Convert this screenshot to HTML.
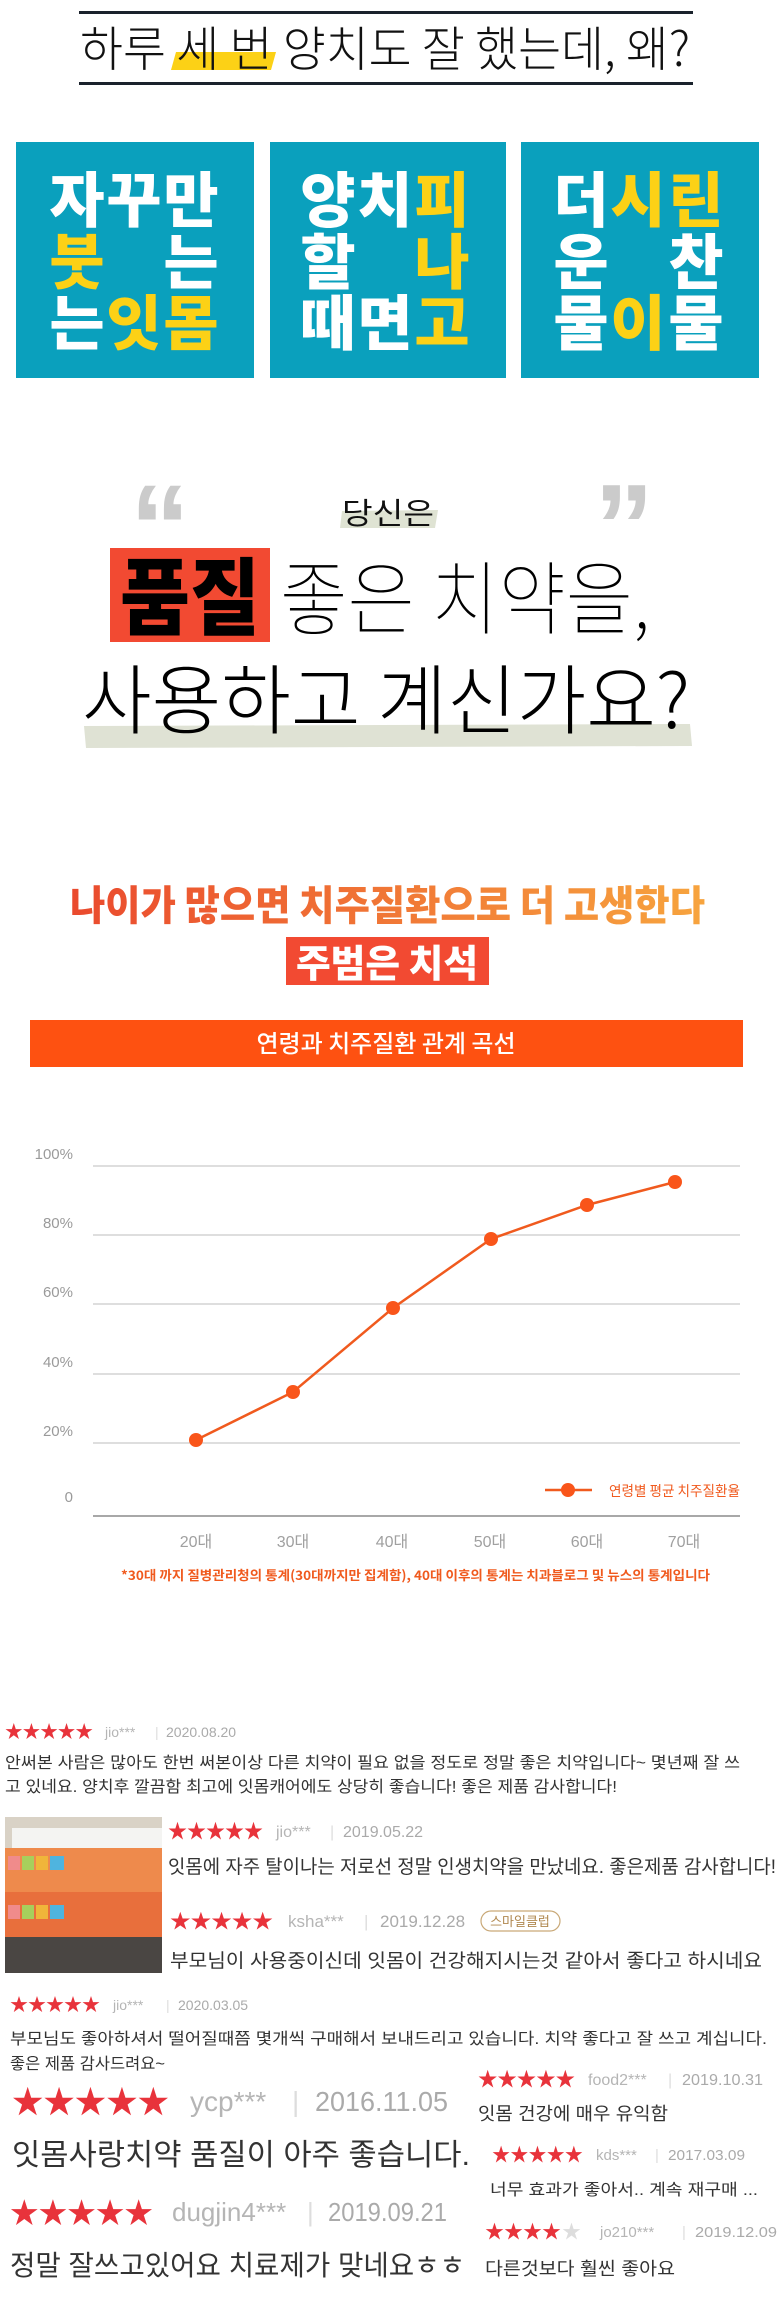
<!DOCTYPE html>
<html><head><meta charset="utf-8">
<style>
html,body{margin:0;padding:0;background:#fff;}
svg{display:block;}
text{font-family:"Liberation Sans","Noto Sans CJK KR",sans-serif;}
.k{font-family:"Noto Sans CJK KR","Liberation Sans",sans-serif;}
</style></head>
<body>
<svg width="777" height="2318" viewBox="0 0 777 2318" xmlns="http://www.w3.org/2000/svg">
<defs>
<linearGradient id="g1" x1="0" x2="1" y1="0" y2="0">
<stop offset="0" stop-color="#ea4a2e"/><stop offset="1" stop-color="#f7a43e"/>
</linearGradient>
</defs>
<!-- Section 1 -->
<rect x="79" y="11" width="614" height="3" fill="#1a222c"/>
<rect x="79" y="82" width="614" height="3" fill="#1a222c"/>
<polygon points="176,52 276,52 271,70 171,70" fill="#fcd116"/>
<text class="k" x="80" y="66" font-size="48" font-weight="300" fill="#111" textLength="610" lengthAdjust="spacingAndGlyphs">하루 세 번 양치도 잘 했는데, 왜?</text>

<rect x="16" y="142" width="238" height="236" fill="#0aa0bd"/>
<rect x="270" y="142" width="236" height="236" fill="#0aa0bd"/>
<rect x="521" y="142" width="238" height="236" fill="#0aa0bd"/>
<g class="k" font-size="60" font-weight="900" text-anchor="middle">
<text x="77" y="222" fill="#fff">자</text><text x="134" y="222" fill="#fff">꾸</text><text x="191" y="222" fill="#fff">만</text>
<text x="77" y="284" fill="#fcd116">붓</text><text x="191" y="284" fill="#fff">는</text>
<text x="77" y="345" fill="#fff">는</text><text x="134" y="345" fill="#fcd116">잇</text><text x="191" y="345" fill="#fcd116">몸</text>
<text x="328" y="222" fill="#fff">양</text><text x="385" y="222" fill="#fff">치</text><text x="442" y="222" fill="#fcd116">피</text>
<text x="328" y="284" fill="#fff">할</text><text x="442" y="284" fill="#fcd116">나</text>
<text x="328" y="345" fill="#fff">때</text><text x="385" y="345" fill="#fff">면</text><text x="442" y="345" fill="#fcd116">고</text>
<text x="581" y="222" fill="#fff">더</text><text x="638" y="222" fill="#fcd116">시</text><text x="696" y="222" fill="#fcd116">린</text>
<text x="581" y="284" fill="#fff">운</text><text x="696" y="284" fill="#fff">찬</text>
<text x="581" y="345" fill="#fff">물</text><text x="638" y="345" fill="#fcd116">이</text><text x="696" y="345" fill="#fff">물</text>
</g>

<!-- Section 2 -->
<text x="130" y="568" font-family="Liberation Serif" font-size="120" font-weight="bold" fill="#cbcbcb">“</text>
<text x="594" y="568" font-family="Liberation Serif" font-size="120" font-weight="bold" fill="#cbcbcb">”</text>
<polygon points="342,511 438,510 435,528 340,528" fill="#dfe3d3"/>
<text class="k" x="342" y="524" font-size="30" fill="#111" textLength="92" lengthAdjust="spacingAndGlyphs">당신은</text>
<rect x="110" y="548" width="160" height="94" fill="#f24a32"/>
<text class="k" x="190" y="628" font-size="84" font-weight="900" fill="#000" text-anchor="middle" textLength="140" lengthAdjust="spacingAndGlyphs">품질</text>
<text class="k" x="280" y="628" font-size="80" font-weight="100" fill="#000" textLength="370" lengthAdjust="spacingAndGlyphs">좋은 치약을,</text>
<polygon points="84,726 690,724 692,746 86,748" fill="#dfe2d4"/>
<text class="k" x="82" y="728" font-size="76" font-weight="300" fill="#000" textLength="608" lengthAdjust="spacingAndGlyphs">사용하고 계신가요?</text>

<!-- Section 3 -->
<text class="k" x="70" y="920" font-size="41" font-weight="900" fill="url(#g1)" textLength="635" lengthAdjust="spacingAndGlyphs">나이가 많으면 치주질환으로 더 고생한다</text>
<rect x="286" y="937" width="203" height="48" fill="#f24a32"/>
<text class="k" x="296" y="977" font-size="38" font-weight="900" fill="#fff" textLength="182" lengthAdjust="spacingAndGlyphs">주범은 치석</text>
<rect x="30" y="1020" width="713" height="47" fill="#fe5111"/>
<text class="k" x="386" y="1052" font-size="24" font-weight="500" fill="#fff" text-anchor="middle">연령과 치주질환 관계 곡선</text>

<g stroke="#d4d4d4" stroke-width="1.5">
<line x1="93" y1="1166" x2="740" y2="1166"/><line x1="93" y1="1235" x2="740" y2="1235"/>
<line x1="93" y1="1304" x2="740" y2="1304"/><line x1="93" y1="1374" x2="740" y2="1374"/>
<line x1="93" y1="1443" x2="740" y2="1443"/>
</g>
<line x1="93" y1="1516" x2="740" y2="1516" stroke="#a8a8a8" stroke-width="2"/>
<g font-size="15" fill="#9a9a9a" text-anchor="end">
<text x="73" y="1159">100%</text><text x="73" y="1228">80%</text><text x="73" y="1297">60%</text>
<text x="73" y="1367">40%</text><text x="73" y="1436">20%</text><text x="73" y="1502">0</text>
</g>
<polyline points="196,1440 293,1392 393,1308 491,1239 587,1205 675,1182" fill="none" stroke="#f05a1e" stroke-width="2.5"/>
<g fill="#f9551a">
<circle cx="196" cy="1440" r="7"/><circle cx="293" cy="1392" r="7"/><circle cx="393" cy="1308" r="7"/>
<circle cx="491" cy="1239" r="7"/><circle cx="587" cy="1205" r="7"/><circle cx="675" cy="1182" r="7"/>
<line x1="545" y1="1490" x2="592" y2="1490" stroke="#f05a1e" stroke-width="2.5"/>
<circle cx="568" cy="1490" r="7"/>
</g>
<text class="k" x="609" y="1496" font-size="14" fill="#f05a1e" textLength="131" lengthAdjust="spacingAndGlyphs">연령별 평균 치주질환율</text>
<g class="k" font-size="16" fill="#a0a0a0" text-anchor="middle">
<text x="196" y="1547">20대</text><text x="293" y="1547">30대</text><text x="392" y="1547">40대</text>
<text x="490" y="1547">50대</text><text x="587" y="1547">60대</text><text x="684" y="1547">70대</text>
</g>
<text class="k" x="121" y="1580" font-size="13" font-weight="700" fill="#f05a1e" textLength="589" lengthAdjust="spacingAndGlyphs">*30대 까지 질병관리청의 통계(30대까지만 집계함), 40대 이후의 통계는 치과블로그 및 뉴스의 통계입니다</text>

<!-- Reviews -->
<g class="k">
<text x="5" y="1738" font-size="18" fill="#e8333b" textLength="88" lengthAdjust="spacingAndGlyphs">★★★★★</text>
<text x="105" y="1737" font-size="14" fill="#b5b5b5">jio***</text>
<text x="155" y="1737" font-size="14" fill="#ddd">|</text>
<text x="166" y="1737" font-size="14" fill="#aaa">2020.08.20</text>
<text x="5" y="1768" font-size="16" fill="#333" textLength="735" lengthAdjust="spacingAndGlyphs">안써본 사람은 많아도 한번 써본이상 다른 치약이 필요 없을 정도로 정말 좋은 치약입니다~ 몇년째 잘 쓰</text>
<text x="5" y="1792" font-size="16" fill="#333" textLength="612" lengthAdjust="spacingAndGlyphs">고 있네요. 양치후 깔끔함 최고에 잇몸캐어에도 상당히 좋습니다! 좋은 제품 감사합니다!</text>

<rect x="5" y="1817" width="157" height="156" fill="#d9d2c6"/>
<rect x="12" y="1828" width="150" height="20" fill="#f4f4f2"/>
<rect x="5" y="1848" width="157" height="44" fill="#ee8a4c"/>
<rect x="8" y="1856" width="12" height="14" fill="#f08b8b"/><rect x="22" y="1856" width="12" height="14" fill="#a7cf5c"/>
<rect x="36" y="1856" width="12" height="14" fill="#f0b53a"/><rect x="50" y="1856" width="14" height="14" fill="#4fb4df"/>
<rect x="5" y="1892" width="157" height="45" fill="#e86f3c"/>
<rect x="8" y="1905" width="12" height="14" fill="#f08b8b"/><rect x="22" y="1905" width="12" height="14" fill="#a7cf5c"/>
<rect x="36" y="1905" width="12" height="14" fill="#f0b53a"/><rect x="50" y="1905" width="14" height="14" fill="#4fb4df"/>
<rect x="5" y="1937" width="157" height="36" fill="#4a4643"/>

<text x="168" y="1838" font-size="20" fill="#e8333b" textLength="95" lengthAdjust="spacingAndGlyphs">★★★★★</text>
<text x="276" y="1837" font-size="16" fill="#b5b5b5">jio***</text>
<text x="330" y="1837" font-size="16" fill="#ddd">|</text>
<text x="343" y="1837" font-size="16" fill="#aaa">2019.05.22</text>
<text x="168" y="1873" font-size="19" fill="#333" textLength="608" lengthAdjust="spacingAndGlyphs">잇몸에 자주 탈이나는 저로선 정말 인생치약을 만났네요. 좋은제품 감사합니다!</text>
<text x="170" y="1928" font-size="20" fill="#e8333b" textLength="103" lengthAdjust="spacingAndGlyphs">★★★★★</text>
<text x="288" y="1927" font-size="17" fill="#b5b5b5">ksha***</text>
<text x="364" y="1927" font-size="17" fill="#ddd">|</text>
<text x="380" y="1927" font-size="17" fill="#aaa">2019.12.28</text>
<rect x="481" y="1911" width="79" height="20" rx="10" fill="none" stroke="#c9a978" stroke-width="1.2"/>
<text x="520" y="1926" font-size="13" fill="#b08850" text-anchor="middle">스마일클럽</text>
<text x="170" y="1967" font-size="19" fill="#333" textLength="592" lengthAdjust="spacingAndGlyphs">부모님이 사용중이신데 잇몸이 건강해지시는것 같아서 좋다고 하시네요</text>

<text x="10" y="2011" font-size="18" fill="#e8333b" textLength="90" lengthAdjust="spacingAndGlyphs">★★★★★</text>
<text x="113" y="2010" font-size="14" fill="#b5b5b5">jio***</text>
<text x="166" y="2010" font-size="14" fill="#ddd">|</text>
<text x="178" y="2010" font-size="14" fill="#aaa">2020.03.05</text>
<text x="10" y="2044" font-size="16" fill="#333" textLength="757" lengthAdjust="spacingAndGlyphs">부모님도 좋아하셔서 떨어질때쯤 몇개씩 구매해서 보내드리고 있습니다. 치약 좋다고 잘 쓰고 계십니다.</text>
<text x="10" y="2069" font-size="16" fill="#333" textLength="155" lengthAdjust="spacingAndGlyphs">좋은 제품 감사드려요~</text>

<text x="12" y="2113" font-size="32" fill="#e8333b" textLength="157" lengthAdjust="spacingAndGlyphs">★★★★★</text>
<text x="190" y="2111" font-size="28" fill="#b5b5b5">ycp***</text>
<text x="292" y="2111" font-size="28" fill="#ddd">|</text>
<text x="315" y="2111" font-size="28" fill="#aaa" textLength="133" lengthAdjust="spacingAndGlyphs">2016.11.05</text>
<text x="12" y="2165" font-size="30" fill="#333" textLength="458" lengthAdjust="spacingAndGlyphs">잇몸사랑치약 품질이 아주 좋습니다.</text>
<text x="10" y="2223" font-size="29" fill="#e8333b" textLength="143" lengthAdjust="spacingAndGlyphs">★★★★★</text>
<text x="172" y="2221" font-size="26" fill="#b5b5b5">dugjin4***</text>
<text x="307" y="2221" font-size="26" fill="#ddd">|</text>
<text x="328" y="2221" font-size="26" fill="#aaa" textLength="119" lengthAdjust="spacingAndGlyphs">2019.09.21</text>
<text x="10" y="2275" font-size="28" fill="#333" textLength="455" lengthAdjust="spacingAndGlyphs">정말 잘쓰고있어요 치료제가 맞네요ㅎㅎ</text>

<text x="478" y="2086" font-size="20" fill="#e8333b" textLength="97" lengthAdjust="spacingAndGlyphs">★★★★★</text>
<text x="588" y="2085" font-size="16" fill="#b5b5b5">food2***</text>
<text x="668" y="2085" font-size="16" fill="#ddd">|</text>
<text x="682" y="2085" font-size="16" fill="#aaa" textLength="81" lengthAdjust="spacingAndGlyphs">2019.10.31</text>
<text x="478" y="2120" font-size="18" fill="#333" textLength="190" lengthAdjust="spacingAndGlyphs">잇몸 건강에 매우 유익함</text>
<text x="492" y="2161" font-size="19" fill="#e8333b" textLength="91" lengthAdjust="spacingAndGlyphs">★★★★★</text>
<text x="596" y="2160" font-size="15" fill="#b5b5b5">kds***</text>
<text x="655" y="2160" font-size="15" fill="#ddd">|</text>
<text x="668" y="2160" font-size="15" fill="#aaa" textLength="77" lengthAdjust="spacingAndGlyphs">2017.03.09</text>
<text x="490" y="2195" font-size="16" fill="#333" textLength="268" lengthAdjust="spacingAndGlyphs">너무 효과가 좋아서.. 계속 재구매 ...</text>
<text x="485" y="2238" font-size="19" fill="#e8333b" textLength="76" lengthAdjust="spacingAndGlyphs">★★★★</text>
<text x="562" y="2238" font-size="19" fill="#ddd">★</text>
<text x="600" y="2237" font-size="15" fill="#b5b5b5">jo210***</text>
<text x="682" y="2237" font-size="15" fill="#ddd">|</text>
<text x="695" y="2237" font-size="15" fill="#aaa" textLength="82" lengthAdjust="spacingAndGlyphs">2019.12.09</text>
<text x="485" y="2275" font-size="18" fill="#333" textLength="190" lengthAdjust="spacingAndGlyphs">다른것보다 훨씬 좋아요</text>
</g>
</svg>
</body></html>
